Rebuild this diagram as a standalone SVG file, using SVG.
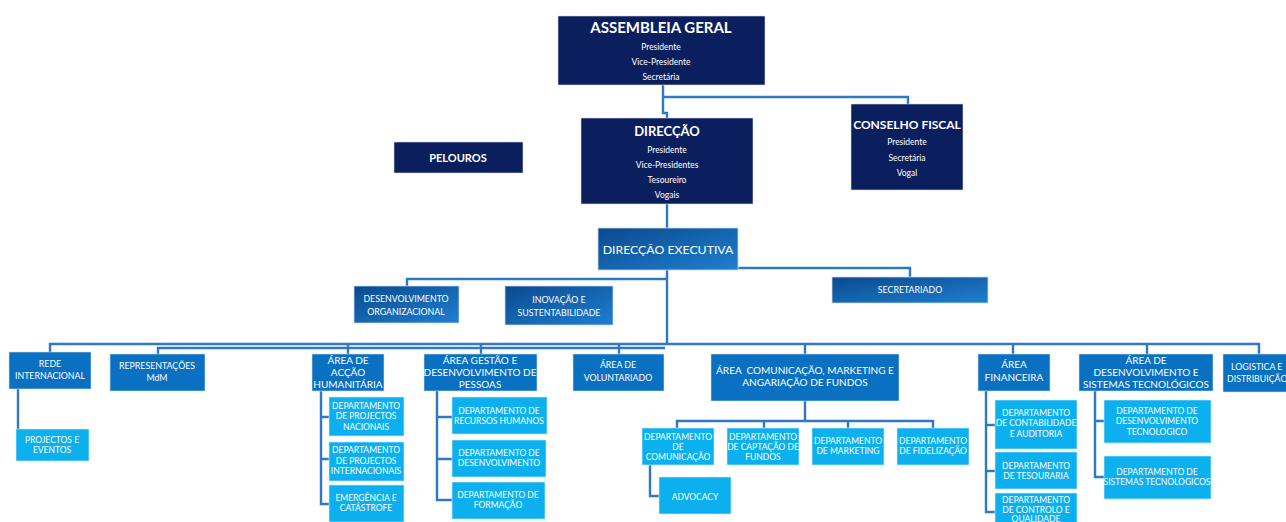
<svg xmlns="http://www.w3.org/2000/svg" width="1286" height="522" viewBox="0 0 1286 522">
<defs>
<linearGradient id="gde" x1="0" y1="0" x2="1" y2="1">
<stop offset="0" stop-color="#0a4a8f"/>
<stop offset="1" stop-color="#1f7fd0"/>
</linearGradient>
<style>
.nv{fill:#0b1f5e;stroke:#d8dde8;stroke-width:0.6}
.de{fill:url(#gde);stroke:#c9daf0;stroke-width:0.8}
.ar{fill:#0a70c2;stroke:#cfe0f2;stroke-width:0.6}
.dp{fill:#0cb0ef;stroke:#d5f0fb;stroke-width:0.6}
text{fill:#ffffff;font-family:Lato,"Open Sans","Liberation Sans",sans-serif;text-anchor:middle;dominant-baseline:central}
.t1{font-size:15px;font-weight:bold}
.t2{font-size:13px;font-weight:bold}
.t3{font-size:12px;font-weight:bold}
.s{font-size:8.5px}
.m{font-size:10px}
.d{font-size:8.8px}
.e{font-size:12.3px}
.c{fill:none;stroke:#2f78c8;stroke-width:2.4;stroke-linejoin:miter}
</style>
</defs>

<g id="connectors">
<path class="c" d="M663 85 V113 H667 V118"/>
<path class="c" d="M663 97 H908 V104"/>
<path class="c" d="M667 204 V228"/>
<path class="c" d="M667 270 V344"/>
<path class="c" d="M667 279 H407 V286"/>
<path class="c" d="M738 268 H910 V277"/>
<path class="c" d="M50 352 V344 H1259 V354"/>
<path class="c" d="M158 354 V348 H665"/>
<path class="c" d="M348 344 V354"/>
<path class="c" d="M481 344 V354"/>
<path class="c" d="M619 344 V354"/>
<path class="c" d="M805 344 V354"/>
<path class="c" d="M1013 344 V354"/>
<path class="c" d="M1147 344 V354"/>
<path class="c" d="M18 389 V445"/>
<path class="c" d="M321 391 V504 H329 M321 417 H329 M321 459 H329"/>
<path class="c" d="M437 391 V500 H452 M437 417 H452 M437 459 H452"/>
<path class="c" d="M805 401 V421 M677 428 V421 H933 V428 M764 421 V428 M848 421 V428"/>
<path class="c" d="M650 465 V496 H659"/>
<path class="c" d="M986 391 V512 H995 M986 425 H995 M986 471 H995"/>
<path class="c" d="M1095 391 V477 H1104 M1095 421 H1104"/>
</g>

<g id="assembleia-geral">
<rect class="nv" x="558" y="16" width="207" height="69"/>
<text class="t1" x="661" y="27">ASSEMBLEIA GERAL</text>
<text class="s" x="661" y="47">Presidente</text>
<text class="s" x="661" y="62">Vice-Presidente</text>
<text class="s" x="661" y="77">Secretária</text>
</g>

<g id="direccao">
<rect class="nv" x="581" y="118" width="172" height="86"/>
<text class="t2" x="667" y="131">DIRECÇÃO</text>
<text class="s" x="667" y="150">Presidente</text>
<text class="s" x="667" y="165">Vice-Presidentes</text>
<text class="s" x="667" y="180">Tesoureiro</text>
<text class="s" x="667" y="195">Vogais</text>
</g>

<g id="conselho-fiscal">
<rect class="nv" x="851" y="104" width="112" height="86"/>
<text class="t3" x="907" y="124">CONSELHO FISCAL</text>
<text class="s" x="907" y="142">Presidente</text>
<text class="s" x="907" y="158">Secretária</text>
<text class="s" x="907" y="173">Vogal</text>
</g>

<g id="pelouros">
<rect class="nv" x="394" y="142" width="129" height="31"/>
<text class="t3" x="458" y="157" style="font-size:11px">PELOUROS</text>
</g>

<g id="direccao-executiva">
<rect class="de" x="598" y="228" width="140" height="42"/>
<text class="e" x="668" y="249">DIRECÇÃO EXECUTIVA</text>
</g>

<g id="desenvolvimento-organizacional">
<rect class="de" x="354" y="286" width="105" height="37"/>
<text class="d" x="406" y="298">DESENVOLVIMENTO</text>
<text class="d" x="406" y="311">ORGANIZACIONAL</text>
</g>

<g id="inovacao">
<rect class="de" x="505" y="286" width="108" height="39"/>
<text class="d" x="559" y="299">INOVAÇÃO E</text>
<text class="d" x="559" y="312">SUSTENTABILIDADE</text>
</g>

<g id="secretariado">
<rect class="de" x="832" y="277" width="156" height="26"/>
<text class="d" x="910" y="289">SECRETARIADO</text>
</g>

<g id="rede-internacional">
<rect class="ar" x="9" y="352" width="82" height="37"/>
<text class="d" x="50" y="363">REDE</text>
<text class="d" x="50" y="375">INTERNACIONAL</text>
</g>

<g id="projectos-eventos">
<rect class="dp" x="16" y="429" width="73" height="32"/>
<text class="s" x="52" y="440">PROJECTOS E</text>
<text class="s" x="52" y="450">EVENTOS</text>
</g>

<g id="representacoes">
<rect class="ar" x="110" y="354" width="95" height="37"/>
<text class="d" x="157" y="365">REPRESENTAÇÕES</text>
<text class="d" x="157" y="377">MdM</text>
</g>

<g id="accao-humanitaria">
<rect class="ar" x="312" y="354" width="72" height="37"/>
<text class="m" x="348" y="360">ÁREA DE</text>
<text class="m" x="348" y="372">ACÇÃO</text>
<text class="m" x="348" y="384">HUMANITÁRIA</text>
</g>

<g id="dep-projectos-nacionais">
<rect class="dp" x="329" y="397" width="75" height="39"/>
<text class="s" x="366" y="406">DEPARTAMENTO</text>
<text class="s" x="366" y="416">DE PROJECTOS</text>
<text class="s" x="366" y="427">NACIONAIS</text>
</g>

<g id="dep-projectos-internacionais">
<rect class="dp" x="329" y="442" width="75" height="39"/>
<text class="s" x="366" y="450">DEPARTAMENTO</text>
<text class="s" x="366" y="461">DE PROJECTOS</text>
<text class="s" x="366" y="471">INTERNACIONAIS</text>
</g>

<g id="emergencia">
<rect class="dp" x="329" y="485" width="75" height="37"/>
<text class="s" x="366" y="498">EMERGÊNCIA E</text>
<text class="s" x="366" y="508">CATÁSTROFE</text>
</g>

<g id="gestao-pessoas">
<rect class="ar" x="424" y="354" width="113" height="37"/>
<text class="m" x="480" y="360">ÁREA GESTÃO E</text>
<text class="m" x="480" y="372">DESENVOLVIMENTO DE</text>
<text class="m" x="480" y="384">PESSOAS</text>
</g>

<g id="dep-rh">
<rect class="dp" x="452" y="397" width="95" height="37"/>
<text class="s" x="499" y="411">DEPARTAMENTO DE</text>
<text class="s" x="499" y="421">RECURSOS HUMANOS</text>
</g>

<g id="dep-desenvolvimento">
<rect class="dp" x="452" y="440" width="94" height="37"/>
<text class="s" x="499" y="453">DEPARTAMENTO DE</text>
<text class="s" x="499" y="463">DESENVOLVIMENTO</text>
</g>

<g id="dep-formacao">
<rect class="dp" x="452" y="482" width="93" height="37"/>
<text class="s" x="498" y="495">DEPARTAMENTO DE</text>
<text class="s" x="498" y="505">FORMAÇÃO</text>
</g>

<g id="voluntariado">
<rect class="ar" x="573" y="354" width="91" height="37"/>
<text class="d" x="618" y="364">ÁREA DE</text>
<text class="d" x="618" y="377">VOLUNTARIADO</text>
</g>

<g id="comunicacao-marketing">
<rect class="ar" x="711" y="354" width="188" height="47"/>
<text class="m" x="805" y="370">ÁREA&#160; COMUNICAÇÃO, MARKETING E</text>
<text class="m" x="805" y="382">ANGARIAÇÃO DE FUNDOS</text>
</g>

<g id="dep-comunicacao">
<rect class="dp" x="642" y="428" width="72" height="37"/>
<text class="s" x="678" y="437">DEPARTAMENTO</text>
<text class="s" x="678" y="447">DE</text>
<text class="s" x="678" y="457">COMUNICAÇÃO</text>
</g>

<g id="dep-captacao">
<rect class="dp" x="727" y="428" width="72" height="37"/>
<text class="s" x="763" y="437">DEPARTAMENTO</text>
<text class="s" x="763" y="447">DE CAPTAÇÃO DE</text>
<text class="s" x="763" y="457">FUNDOS</text>
</g>

<g id="dep-marketing">
<rect class="dp" x="812" y="428" width="72" height="37"/>
<text class="s" x="848" y="441">DEPARTAMENTO</text>
<text class="s" x="848" y="451">DE MARKETING</text>
</g>

<g id="dep-fidelizacao">
<rect class="dp" x="897" y="428" width="72" height="37"/>
<text class="s" x="933" y="441">DEPARTAMENTO</text>
<text class="s" x="933" y="451">DE FIDELIZAÇÃO</text>
</g>

<g id="advocacy">
<rect class="dp" x="659" y="477" width="72" height="37"/>
<text class="s" x="695" y="497">ADVOCACY</text>
</g>

<g id="financeira">
<rect class="ar" x="978" y="354" width="72" height="37"/>
<text class="m" x="1014" y="364">ÁREA</text>
<text class="m" x="1014" y="377">FINANCEIRA</text>
</g>

<g id="dep-contabilidade">
<rect class="dp" x="995" y="400" width="82" height="49"/>
<text class="s" x="1036" y="413">DEPARTAMENTO</text>
<text class="s" x="1036" y="423">DE CONTABILIDADE</text>
<text class="s" x="1036" y="434">E AUDITORIA</text>
</g>

<g id="dep-tesouraria">
<rect class="dp" x="995" y="452" width="82" height="37"/>
<text class="s" x="1036" y="466">DEPARTAMENTO</text>
<text class="s" x="1036" y="476">DE TESOURARIA</text>
</g>

<g id="dep-controlo">
<rect class="dp" x="995" y="493" width="82" height="35"/>
<text class="s" x="1036" y="500">DEPARTAMENTO</text>
<text class="s" x="1036" y="510">DE CONTROLO E</text>
<text class="s" x="1036" y="519">QUALIDADE</text>
</g>

<g id="desenvolvimento-sistemas">
<rect class="ar" x="1079" y="354" width="134" height="37"/>
<text class="m" x="1146" y="360">ÁREA DE</text>
<text class="m" x="1146" y="372">DESENVOLVIMENTO E</text>
<text class="m" x="1146" y="384">SISTEMAS TECNOLÓGICOS</text>
</g>

<g id="dep-desenvolvimento-tecnologico">
<rect class="dp" x="1104" y="400" width="107" height="43"/>
<text class="s" x="1157" y="411">DEPARTAMENTO DE</text>
<text class="s" x="1157" y="421">DESENVOLVIMENTO</text>
<text class="s" x="1157" y="432">TECNOLOGICO</text>
</g>

<g id="dep-sistemas-tecnologicos">
<rect class="dp" x="1104" y="456" width="107" height="43"/>
<text class="s" x="1157" y="472">DEPARTAMENTO DE</text>
<text class="s" x="1157" y="482">SISTEMAS TECNOLOGICOS</text>
</g>

<g id="logistica">
<rect class="ar" x="1223" y="354" width="80" height="38"/>
<text class="d" x="1231" y="366" style="text-anchor:start">LOGISTICA E</text>
<text class="d" x="1227" y="378" style="text-anchor:start">DISTRIBUIÇÃO</text>
</g>
</svg>
